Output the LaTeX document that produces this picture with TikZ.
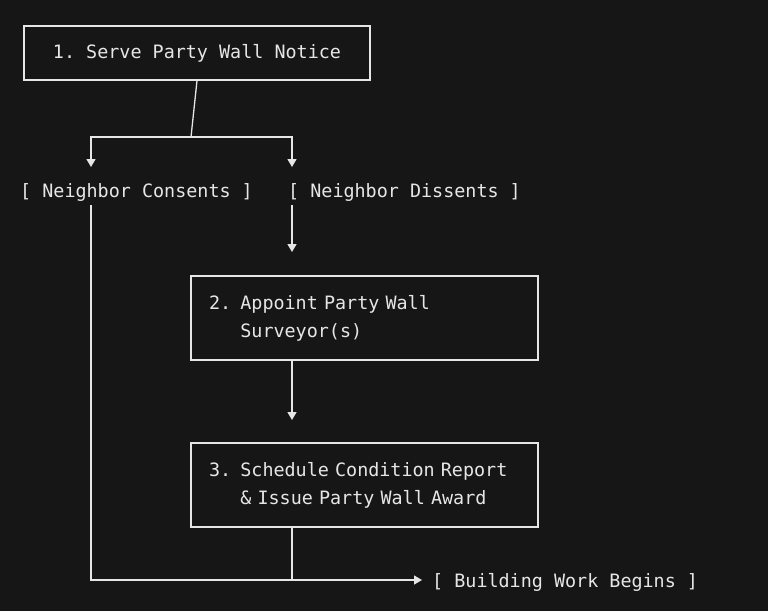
\documentclass[tikz,border=0pt]{standalone}
\usepackage{fontspec}
\setmonofont{DejaVu Sans Mono}
\usetikzlibrary{arrows.meta,positioning}
\definecolor{bgcol}{HTML}{161616}
\definecolor{fgcol}{HTML}{E6E6E6}
\tikzset{
  stepbox/.style={draw=fgcol, line width=1.3pt, text=fgcol, font=\ttfamily\fontsize{18.4}{28}\selectfont, inner sep=0pt},
  outcome/.style={text=fgcol, font=\ttfamily\fontsize{18.4}{28}\selectfont, inner sep=0pt, anchor=west},
  link/.style={draw=fgcol, line width=1.3pt},
  arr/.style={link, -{Triangle[width=9pt,length=8pt]}}
}
\begin{document}
\begin{tikzpicture}[x=1pt,y=-1pt]
\fill[bgcol] (0,0) rectangle (768,611);
\useasboundingbox (0,0) rectangle (768,611);
% boxes
\node[stepbox, minimum width=346pt, minimum height=54pt] (notice) at (197,53) {1. Serve Party Wall Notice};
\node[stepbox, minimum width=347pt, minimum height=84pt, text width=311pt, align=left] (surveyor) at (364.5,318)
  {2. Appoint Party Wall\\\phantom{2. }Surveyor(s)};
\node[stepbox, minimum width=347pt, minimum height=84pt, text width=311pt, align=left] (award) at (364.5,485)
  {3. Schedule Condition Report\\\phantom{3. }\& Issue Party Wall Award};
% outcomes
\node[outcome] (consent) at (20,192) {[ Neighbor Consents ]};
\node[outcome] (dissent) at (288,192) {[ Neighbor Dissents ]};
\node[outcome] (work) at (432,582) {[ Building Work Begins ]};
% joints
\coordinate (split) at (191,137);
\coordinate (ctop) at (91,167);
\coordinate (dtop) at (292,167);
\coordinate (cfoot) at (91,205);
\coordinate (dfoot) at (292,205);
\coordinate (sin) at (292,252);
\coordinate (sout) at (292,360);
\coordinate (ain) at (292,420);
\coordinate (aout) at (292,527);
\coordinate (merge) at (292,580);
\coordinate (corner) at (91,580);
\coordinate (workin) at (422,580);
% connectors
\draw[link] (notice.south) -- (split);
\draw[arr] (split) -| (ctop);
\draw[arr] (split) -| (dtop);
\draw[arr] (dfoot) -- (sin);
\draw[arr] (sout) -- (ain);
\draw[link] (aout) -- (merge);
\draw[arr] (cfoot) -- (corner) -- (workin);
\end{tikzpicture}
\end{document}
